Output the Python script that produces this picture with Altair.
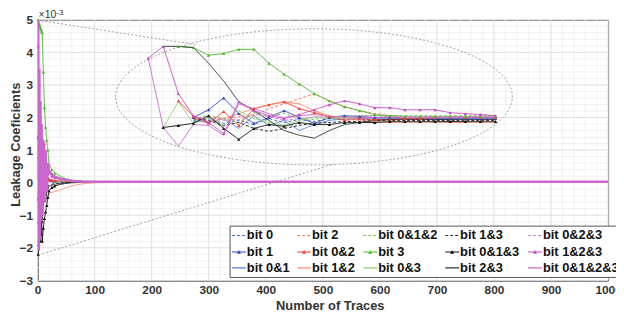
import altair as alt
import pandas as pd

# ---------------- data ----------------
series_names = ["bit 0", "bit 1", "bit 0&1", "bit 2", "bit 0&2", "bit 1&2",
                "bit 0&1&2", "bit 3", "bit 0&3", "bit 1&3", "bit 0&1&3", "bit 2&3",
                "bit 0&2&3", "bit 1&2&3", "bit 0&1&2&3"]

# main plot (values x 1e-3)
main_x = [1, 2, 3, 4, 5, 6, 7, 8, 10, 12, 14, 16, 18, 20, 25, 30, 40, 50, 60, 80, 100, 150, 1000]
main_bit0 = [0.8, -0.6, 0.5, -0.9, 0.4, -0.3, 0.3, -0.2, 0.25, -0.15, 0.2, -0.1, 0.1, 0.05, 0.08, 0.05, 0.04, 0.03, 0.03, 0.02, 0.02, 0.02, 0.02]
main_bit1 = [1.4, -1.2, 0.9, -0.8, 1.35, -0.5, 0.6, 1.35, -0.4, 0.3, -0.2, 0.25, 0.1, 0.08, 0.06, 0.05, 0.04, 0.03, 0.03, 0.02, 0.02, 0.02, 0.02]
main_bit01 = [0.5, -1.0, 0.7, -0.5, 0.4, -0.6, 0.3, -0.3, 0.2, -0.2, 0.15, -0.1, 0.1, 0.05, 0.04, 0.03, 0.03, 0.02, 0.02, 0.02, 0.02, 0.02, 0.02]
main_bit2 = [1.2, -0.4, 0.9, 0.2, 1.0, -0.3, 0.6, 0.1, 0.5, 0.2, 0.3, 0.15, 0.1, 0.1, 0.08, 0.06, 0.05, 0.04, 0.03, 0.03, 0.02, 0.02, 0.02]
main_bit02 = [-0.5, 1.1, 0.3, 1.2, -0.2, 0.9, 0.4, 1.0, 0.2, 1.2, 0.5, 0.3, 0.15, 0.1, 0.08, 0.06, 0.05, 0.04, 0.03, 0.03, 0.02, 0.02, 0.02]
main_bit12 = [0.6, -0.8, 0.4, -0.5, 0.3, -0.6, -0.2, -0.5, -0.3, -0.45, -0.4, -0.38, -0.36, -0.35, -0.3, -0.27, -0.22, -0.15, -0.1, -0.03, 0.0, 0.01, 0.01]
main_bit012 = [0.9, -0.3, 0.7, 0.1, 0.6, -0.2, 0.4, 0.2, 0.3, 0.1, 0.2, 0.1, 0.08, 0.06, 0.05, 0.04, 0.03, 0.03, 0.03, 0.02, 0.02, 0.02, 0.02]
main_bit3 = [5.0, 4.9, 4.85, 4.8, 4.75, 4.7, 4.65, 4.6, 3.4, 2.3, 1.7, 1.3, 1.0, 0.55, 0.4, 0.3, 0.2, 0.12, 0.08, 0.05, 0.04, 0.03, 0.03]
main_bit03 = [1.0, 0.2, 1.1, -0.3, 0.8, 0.3, 0.6, 0.2, 0.7, 0.5, 0.6, 0.5, 0.45, 0.4, 0.3, 0.22, 0.15, 0.1, 0.07, 0.04, 0.03, 0.03, 0.03]
main_bit13 = [-0.8, 0.4, -0.5, 0.3, -0.4, -0.2, 0.1, -0.3, -0.1, -0.2, -0.1, -0.15, -0.1, -0.08, -0.05, -0.02, -0.01, 0.0, 0.01, 0.01, 0.01, 0.01, 0.01]
main_bit013 = [-2.2, -1.9, -1.5, -1.8, -1.3, -1.6, -1.2, -1.8, -1.4, -1.1, -0.9, -0.7, -0.45, -0.25, -0.15, -0.1, -0.05, -0.02, 0.0, 0.01, 0.01, 0.01, 0.01]
main_bit23 = [-1.0, -1.8, -0.6, -1.4, -0.9, -1.6, -0.8, -1.2, -0.7, -0.5, -0.6, -0.3, -0.2, -0.1, -0.08, -0.05, -0.02, 0.0, 0.01, 0.01, 0.01, 0.01, 0.01]
main_bit023 = [2.0, -0.5, 1.5, 0.2, 1.2, -0.2, 0.9, 0.3, 0.7, 0.4, 0.5, 0.35, 0.3, 0.25, 0.2, 0.15, 0.1, 0.07, 0.05, 0.03, 0.03, 0.02, 0.02]
main_bit123 = [4.2, -1.8, 3.0, -1.2, 2.0, -0.8, 1.5, -0.5, 1.2, -0.3, 0.9, 0.3, 0.5, 0.3, 0.2, 0.15, 0.1, 0.07, 0.05, 0.03, 0.03, 0.02, 0.02]
main_bit0123 = [5.0, -2.1, 3.5, -1.7, 2.5, -1.2, 1.8, -1.0, 1.3, -0.6, 1.0, -0.3, 0.6, 0.35, 0.25, 0.18, 0.12, 0.08, 0.05, 0.03, 0.03, 0.03, 0.03]

# magnified inset (first traces, own scale)
inset_x = list(range(1, 25))
N = None
ins_bit0 = [N, N, N, 1.63, 1.73, 1.57, 1.67, 1.53, 1.73, 1.6, 1.7, 1.63, 1.73, 1.7, 1.7, 1.7, 1.7, 1.7, 1.7, 1.7, 1.7, 1.7, 1.7, 1.7]
ins_bit1 = [N, N, N, 1.77, 2.03, 2.43, 1.9, 1.57, 1.77, 2.0, 1.77, 1.57, 1.77, 1.83, 1.8, 1.77, 1.77, 1.73, 1.73, 1.73, 1.73, 1.73, 1.73, 1.73]
ins_bit01 = [N, N, N, 1.67, 1.6, 1.73, 1.4, 1.83, 1.5, 1.67, 1.33, 1.53, 1.67, 1.73, 1.73, 1.73, 1.73, 1.73, 1.73, 1.73, 1.73, 1.73, 1.73, 1.73]
ins_bit2 = [N, N, N, 1.7, 1.77, 1.73, 1.8, 1.83, 2.07, 2.23, 2.4, 2.57, 2.33, 2.13, 2.0, 1.9, 1.83, 1.8, 1.8, 1.8, 1.8, 1.8, 1.8, 1.8]
ins_bit02 = [N, N, 2.33, 1.8, 1.57, 1.97, 1.5, 2.07, 2.2, 2.3, 2.07, 1.93, 1.8, 1.67, 1.73, 1.7, 1.7, 1.73, 1.73, 1.77, 1.77, 1.77, 1.77, 1.77]
ins_bit12 = [N, N, N, 1.73, 1.63, 1.73, 1.9, 2.07, 2.2, 2.3, 2.23, 2.0, 1.83, 1.73, 1.67, 1.63, 1.6, 1.6, 1.6, 1.6, 1.6, 1.6, 1.6, 1.6]
ins_bit012 = [N, N, N, 1.73, 1.83, 1.73, 1.6, 1.93, 1.8, 1.9, 1.73, 1.7, 1.8, 1.8, 1.83, 1.83, 1.83, 1.83, 1.83, 1.83, 1.83, 1.83, 1.83, 1.83]
ins_bit3 = [N, N, 4.17, 4.13, 3.87, 3.93, 4.07, 4.07, 3.6, 3.23, 2.9, 2.57, 2.33, 2.13, 2.0, 1.87, 1.83, 1.8, 1.8, 1.8, 1.8, 1.8, 1.8, 1.8]
ins_bit03 = [N, 1.43, 2.3, 1.57, 1.77, 1.47, 2.0, 1.73, 1.6, 1.5, 1.67, 1.8, 1.73, 1.77, 1.77, 1.77, 1.8, 1.8, 1.8, 1.8, 1.8, 1.8, 1.8, 1.8]
ins_bit13 = [N, N, N, 1.73, 1.67, 1.5, 1.6, 1.4, 1.3, 1.4, 1.5, 1.57, 1.6, 1.63, 1.63, 1.67, 1.67, 1.67, 1.67, 1.67, 1.67, 1.67, 1.67, 1.67]
ins_bit013 = [N, 1.43, 1.5, 1.57, 1.83, 1.4, 1.03, 1.4, 1.53, 1.47, 1.6, 1.53, 1.53, 1.6, 1.6, 1.6, 1.63, 1.63, 1.63, 1.63, 1.63, 1.63, 1.63, 1.63]
ins_bit23 = [N, 4.17, 4.17, 4.13, 3.6, 3.0, 2.3, 2.0, 1.67, 1.33, 1.17, 1.07, 1.33, 1.53, 1.6, 1.67, 1.7, 1.7, 1.7, 1.7, 1.7, 1.7, 1.7, 1.7]
ins_bit023 = [N, N, N, 1.73, 1.8, 1.67, 1.7, 1.87, 1.8, 1.67, 1.73, 1.77, 1.8, 1.8, 1.83, 1.83, 1.8, 1.8, 1.8, 1.8, 1.8, 1.8, 1.8, 1.8]
ins_bit123 = [3.77, 4.17, 2.57, 1.83, 1.6, 1.23, 2.3, 2.0, 1.83, 1.73, 1.87, 2.03, 2.2, 2.33, 2.23, 2.1, 2.1, 2.03, 2.03, 2.03, 1.93, 1.9, 1.87, 1.83]
ins_bit0123 = [3.77, 1.43, 0.8, 1.53, 1.5, 1.17, 2.23, 2.07, 1.9, 1.77, 1.83, 1.87, 1.8, 1.8, 1.77, 1.77, 1.77, 1.77, 1.77, 1.77, 1.77, 1.77, 1.77, 1.77]

x_ticks = [0, 100, 200, 300, 400, 500, 600, 700, 800, 900, 1000]
y_ticks = [-3, -2, -1, 0, 1, 2, 3, 4, 5]
x_minor = [v for v in range(0, 1001, 20) if v % 100]
y_minor = [round(-3 + 0.2 * i, 1) for i in range(41) if i % 5]

# ---------------- styles ----------------
series_colors = ["#4a6ad0", "#2d48b8", "#5b7fe0", "#ff7a5a", "#ff3b2b", "#ff8a6e",
                 "#78c850", "#4cb82c", "#8ad46a", "#2a2a2a", "#111111", "#333333",
                 "#d67ad6", "#c04cc0", "#cc66cc"]
series_dash = [[3, 2], [1, 0], [1, 0]] * 5
series_marker = [False, True, False] * 5
thick_series = "bit 0&1&2&3"

main_values = [main_bit0, main_bit1, main_bit01, main_bit2, main_bit02, main_bit12,
               main_bit012, main_bit3, main_bit03, main_bit13, main_bit013, main_bit23,
               main_bit023, main_bit123, main_bit0123]
inset_values = [ins_bit0, ins_bit1, ins_bit01, ins_bit2, ins_bit02, ins_bit12,
                ins_bit012, ins_bit3, ins_bit03, ins_bit13, ins_bit013, ins_bit23,
                ins_bit023, ins_bit123, ins_bit0123]

rows = []
for name, vals in zip(series_names, main_values):
    for x, y in zip(main_x, vals):
        rows.append({"series": name, "x": x, "y": y})
df_main = pd.DataFrame(rows)

rows = []
for name, vals in zip(series_names, inset_values):
    for x, y in zip(inset_x, vals):
        if y is not None:
            rows.append({"series": name, "x": x, "y": y})
df_inset = pd.DataFrame(rows)

marker_names = [n for n, m in zip(series_names, series_marker) if m]

# legend layout (3 rows x 5 columns, column-major)
leg_col_x = [197, 263, 330, 413, 497]
leg_row_y = [218.5, 235.2, 251.3]
leg_rows = []
for i, name in enumerate(series_names):
    cx = leg_col_x[i // 3]
    leg_rows.append({"series": name, "x0": cx, "x1": cx + 14, "xm": cx + 7,
                     "xt": cx + 15, "yr": leg_row_y[i % 3], "mk": series_marker[i]})
df_leg = pd.DataFrame(leg_rows)

# ---------------- chart ----------------
W, H = 578, 264
FONT = "Liberation Sans"
xs = alt.Scale(domain=[0, 1000], nice=False, zero=False)
ys = alt.Scale(domain=[-3, 5], nice=False, zero=False)
color_enc = alt.Color("series:N", scale=alt.Scale(domain=series_names, range=series_colors), legend=None)
dash_enc = alt.StrokeDash("series:N", scale=alt.Scale(domain=series_names, range=series_dash), legend=None)

x_axis = alt.Axis(values=x_ticks, format="d", title="Number of Traces", grid=False, ticks=False,
                  labelFontSize=12, labelFontWeight="bold", labelColor="#333", labelPadding=4,
                  labelFlush=False, labelOverlap=False, domainColor="#444",
                  titleFontSize=13, titleFontWeight="bold", titleColor="#333",
                  titleX=296, titleY=29, titleBaseline="alphabetic")
y_axis = alt.Axis(values=y_ticks, format="d", title="Leakage Coeficients", grid=False, ticks=False,
                  labelFontSize=12, labelFontWeight="bold", labelColor="#333", labelPadding=5,
                  labelFlush=False, labelOverlap=False, domainColor="#444",
                  titleFontSize=13, titleFontWeight="bold", titleColor="#333",
                  titleX=-18, titleY=126, titleAngle=270, titleBaseline="alphabetic",
                  titleAlign="center")

X = lambda f: alt.X(f, scale=xs, axis=x_axis)
Y = lambda f: alt.Y(f, scale=ys, axis=y_axis)

grid_xm = alt.Chart(pd.DataFrame({"v": x_minor})).mark_rule(color="#f1f1f1", strokeWidth=1).encode(x=X("v:Q"))
grid_ym = alt.Chart(pd.DataFrame({"v": y_minor})).mark_rule(color="#f1f1f1", strokeWidth=1).encode(y=Y("v:Q"))
grid_xM = alt.Chart(pd.DataFrame({"v": x_ticks})).mark_rule(color="#dedede", strokeWidth=1).encode(x=X("v:Q"))
grid_yM = alt.Chart(pd.DataFrame({"v": y_ticks})).mark_rule(color="#dedede", strokeWidth=1).encode(y=Y("v:Q"))

thin = df_main[df_main.series != thick_series]
thick = df_main[df_main.series == thick_series]
main_lines = alt.Chart(thin).mark_line(strokeWidth=1, clip=True).encode(
    x=X("x:Q"), y=Y("y:Q"), color=color_enc, strokeDash=dash_enc, detail="series:N")
main_marks = alt.Chart(df_main[df_main.series.isin(marker_names) & (df_main.x <= 30)]).mark_point(
    shape="triangle-up", filled=True, size=12, opacity=1).encode(
    x=X("x:Q"), y=Y("y:Q"), color=color_enc)
main_thick = alt.Chart(thick).mark_line(strokeWidth=2.6, clip=True).encode(
    x=X("x:Q"), y=Y("y:Q"), color=color_enc, strokeDash=dash_enc)
main_layer = alt.layer(grid_xm, grid_ym, grid_xM, grid_yM, main_lines, main_marks, main_thick)

ixs = alt.Scale(domain=[1, 24], range=[112, 464], nice=False, zero=False)
iys = alt.Scale(domain=[0, 5], range=[152, 2], nice=False, zero=False)
inset_lines = alt.Chart(df_inset).mark_line(strokeWidth=1).encode(
    x=alt.X("x:Q", scale=ixs, axis=None), y=alt.Y("y:Q", scale=iys, axis=None),
    color=color_enc, strokeDash=dash_enc, detail="series:N")
inset_marks = alt.Chart(df_inset[df_inset.series.isin(marker_names)]).mark_point(
    shape="triangle-up", filled=True, size=12, opacity=1).encode(
    x=alt.X("x:Q", scale=ixs, axis=None), y=alt.Y("y:Q", scale=iys, axis=None), color=color_enc)
inset_layer = alt.layer(inset_lines, inset_marks)

one = pd.DataFrame({"a": [0]})
ellipse_path = "M -1 0 A 1 0.343 0 1 1 1 0 A 1 0.343 0 1 1 -1 0 Z"
ellipse = alt.Chart(one).mark_point(shape=ellipse_path, size=161604, filled=False, opacity=1,
                                    stroke="#8a8a8a", strokeWidth=0.8, strokeDash=[2, 2]).encode(
    x=alt.value(280), y=alt.value(78))
conn1 = alt.Chart(one).mark_rule(stroke="#8a8a8a", strokeWidth=0.8, strokeDash=[2, 2]).encode(
    x=alt.value(4), y=alt.value(1), x2=alt.value(160), y2=alt.value(25))
conn2 = alt.Chart(one).mark_rule(stroke="#8a8a8a", strokeWidth=0.8, strokeDash=[2, 2]).encode(
    x=alt.value(5), y=alt.value(237), x2=alt.value(300), y2=alt.value(146))
exp_base = alt.Chart(one).mark_text(text="×10", font=FONT, fontSize=10.5, color="#333",
                                    align="left", baseline="alphabetic").encode(
    x=alt.value(1), y=alt.value(-2))
exp_sup = alt.Chart(one).mark_text(text="-3", font=FONT, fontSize=8, color="#333",
                                   align="left", baseline="alphabetic").encode(
    x=alt.value(19), y=alt.value(-5))
deco_layer = alt.layer(ellipse, conn1, conn2, exp_base, exp_sup)

leg_box = alt.Chart(one).mark_rect(fill="white", stroke="#555", strokeWidth=1).encode(
    x=alt.value(195), x2=alt.value(600), y=alt.value(209), y2=alt.value(261))
leg_lines = alt.Chart(df_leg).mark_rule(strokeWidth=1.2).encode(
    x=alt.X("x0:Q", scale=None, axis=None), x2="x1:Q",
    y=alt.Y("yr:Q", scale=None, axis=None), color=color_enc, strokeDash=dash_enc)
leg_marks = alt.Chart(df_leg[df_leg.mk]).mark_point(shape="triangle-up", filled=True, size=18, opacity=1).encode(
    x=alt.X("xm:Q", scale=None, axis=None), y=alt.Y("yr:Q", scale=None, axis=None), color=color_enc)
leg_text = alt.Chart(df_leg).mark_text(font=FONT, fontSize=13, fontWeight="bold", color="#111",
                                       align="left", baseline="middle").encode(
    x=alt.X("xt:Q", scale=None, axis=None), y=alt.Y("yr:Q", scale=None, axis=None), text="series:N")
legend_layer = alt.layer(leg_box, leg_lines, leg_marks, leg_text)

chart = alt.layer(main_layer, inset_layer, deco_layer, legend_layer).resolve_scale(
    x="independent", y="independent"
).properties(
    width=W, height=H,
    autosize=alt.AutoSizeParams(type="none"),
    padding={"left": 30, "top": 10, "right": 8, "bottom": 30},
).configure(font=FONT).configure_view(stroke="#555", fill="white")

chart.save("out.html", embed_options={"renderer": "svg", "actions": False})
